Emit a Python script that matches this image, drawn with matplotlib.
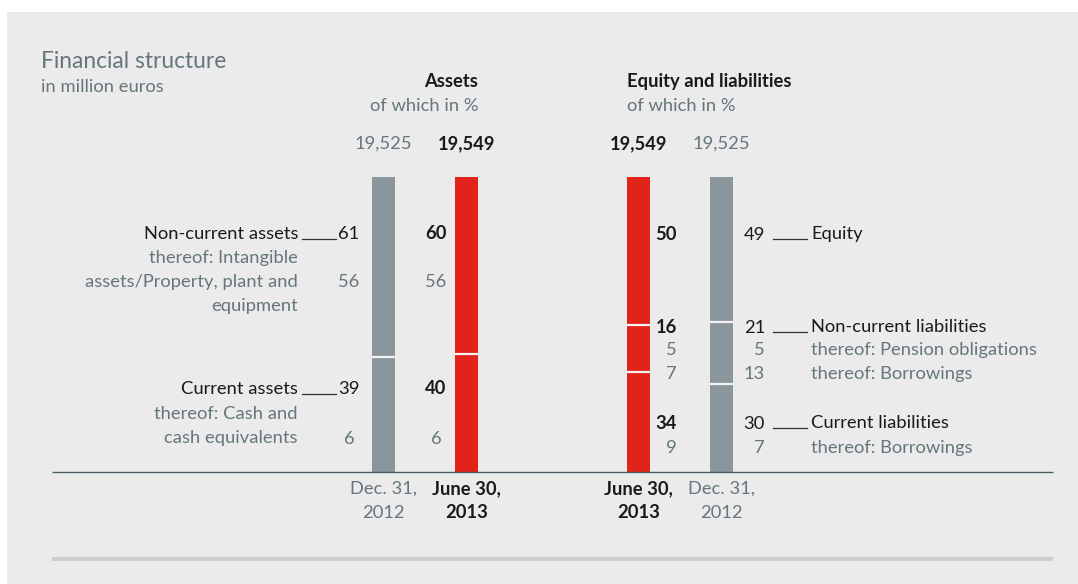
import matplotlib
matplotlib.use('Agg')
import matplotlib.pyplot as plt
from matplotlib.patches import Rectangle

plt.rcParams['font.family'] = ['Lato', 'DejaVu Sans']

W, H = 1078, 584

# ---- data -------------------------------------------------------------
TOTAL_2012 = '19,525'
TOTAL_2013 = '19,549'
DATE_2012 = ['Dec. 31,', '2012']
DATE_2013 = ['June 30,', '2013']

ASSET_ITEMS = ['Non-current assets', 'Current assets']
ASSETS_2012 = [61, 39]
ASSETS_2013 = [60, 40]
ASSET_SUBS = [['thereof: Intangible', 'assets/Property, plant and', 'equipment'],
              ['thereof: Cash and', 'cash equivalents']]
ASSET_SUB_2012 = [56, 6]
ASSET_SUB_2013 = [56, 6]

LIAB_ITEMS = ['Equity', 'Non-current liabilities', 'Current liabilities']
LIAB_2013 = [50, 16, 34]
LIAB_2012 = [49, 21, 30]
LIAB_SUBS = [[], ['thereof: Pension obligations', 'thereof: Borrowings'],
             ['thereof: Borrowings']]
LIAB_SUB_2013 = [[], [5, 7], [9]]
LIAB_SUB_2012 = [[], [5, 13], [7]]

# ---- style ------------------------------------------------------------
BG = '#ebebeb'
GREY_BAR = '#8a959c'
RED = '#e2231a'
DARK = '#1a1a1a'
SLATE = '#66767d'
FS = 13.2

fig = plt.figure(figsize=(W / 100, H / 100), dpi=100, facecolor='white')
fig.patches.append(Rectangle((7 / W, 0), 1, (H - 12) / H, transform=fig.transFigure,
                             facecolor=BG, edgecolor='none', zorder=-10))

# bar axes: 0..100 % between pixel rows 472 (bottom) and 177 (top)
ax = fig.add_axes([0, (H - 472) / H, 1, 295 / H])
ax.set_xlim(0, W)
ax.set_ylim(0, 100)
ax.axis('off')

lay = fig.add_axes([0, 0, 1, 1])
lay.set_xlim(0, W)
lay.set_ylim(H, 0)
lay.axis('off')


def stacked(xc, values, color):
    """values listed top-to-bottom; draw bottom-up with light separators."""
    bottom = 0
    for v in values[::-1]:
        ax.bar(xc, v, bottom=bottom, width=23, color=color, linewidth=0)
        bottom += v
        if bottom < 100:
            ax.hlines(bottom, xc - 11.5, xc + 11.5, color='#f3f3f3', lw=1.6)


BAR_X = [383.5, 466.5, 638.5, 721.5]
stacked(BAR_X[0], ASSETS_2012, GREY_BAR)
stacked(BAR_X[1], ASSETS_2013, RED)
stacked(BAR_X[2], LIAB_2013, RED)
stacked(BAR_X[3], LIAB_2012, GREY_BAR)


def txt(x, y, s, ha='left', color=DARK, weight='normal', size=FS):
    lay.text(x, y, s, ha=ha, va='baseline', color=color, fontweight=weight, fontsize=size)


# titles
txt(41, 68, 'Financial structure', color=SLATE, size=16.4)
txt(41, 92, 'in million euros', color=SLATE)
txt(478, 87, 'Assets', ha='right', weight='bold')
txt(478, 111, 'of which in %', ha='right', color=SLATE)
txt(627, 87, 'Equity and liabilities', weight='bold')
txt(627, 111, 'of which in %', color=SLATE)

# totals
txt(BAR_X[0], 149, TOTAL_2012, ha='center', color=SLATE)
txt(BAR_X[1], 149, TOTAL_2013, ha='center', weight='bold')
txt(BAR_X[2], 149, TOTAL_2013, ha='center', weight='bold')
txt(BAR_X[3], 149, TOTAL_2012, ha='center', color=SLATE)

# dates
for xc, lines, col, wt in [(BAR_X[0], DATE_2012, SLATE, 'normal'),
                           (BAR_X[1], DATE_2013, DARK, 'bold'),
                           (BAR_X[2], DATE_2013, DARK, 'bold'),
                           (BAR_X[3], DATE_2012, SLATE, 'normal')]:
    txt(xc, 494, lines[0], ha='center', color=col, weight=wt)
    txt(xc, 518, lines[1], ha='center', color=col, weight=wt)

# asset side rows
ASSET_ROW_Y = [239, 394]
ASSET_SUB_Y = [[263, 287, 311], [419, 443]]
ASSET_SUB_NUM_Y = [287, 444]
for i, item in enumerate(ASSET_ITEMS):
    y = ASSET_ROW_Y[i]
    txt(298, y, item, ha='right')
    lay.plot([302, 336], [y, y], color='#333333', lw=0.9)
    txt(349, y, str(ASSETS_2012[i]), ha='center')
    txt(436, y, str(ASSETS_2013[i]), ha='center', weight='bold')
    for line, ly in zip(ASSET_SUBS[i], ASSET_SUB_Y[i]):
        txt(298, ly, line, ha='right', color=SLATE)
    txt(349, ASSET_SUB_NUM_Y[i], str(ASSET_SUB_2012[i]), ha='center', color=SLATE)
    txt(436, ASSET_SUB_NUM_Y[i], str(ASSET_SUB_2013[i]), ha='center', color=SLATE)

# liabilities side rows
LIAB_ROW_Y = [239, 332, 428]
LIAB_SUB_Y = [[], [355, 379], [453]]
for i, item in enumerate(LIAB_ITEMS):
    y = LIAB_ROW_Y[i]
    txt(811, y, item)
    lay.plot([773, 807], [y, y], color='#333333', lw=0.9)
    txt(677, y + 1, str(LIAB_2013[i]), ha='right', weight='bold')
    txt(765, y + 1, str(LIAB_2012[i]), ha='right')
    for line, v13, v12, ly in zip(LIAB_SUBS[i], LIAB_SUB_2013[i], LIAB_SUB_2012[i], LIAB_SUB_Y[i]):
        txt(811, ly, line, color=SLATE)
        txt(677, ly, str(v13), ha='right', color=SLATE)
        txt(765, ly, str(v12), ha='right', color=SLATE)

# baseline and footer rule
lay.plot([52, 1053], [472, 472], color='#4d5f66', lw=1.0, solid_capstyle='butt')
lay.plot([52, 1053], [559, 559], color='#c9ced2', lw=2.9, solid_capstyle='butt')

fig.savefig('out.png', dpi=100, facecolor='white')
